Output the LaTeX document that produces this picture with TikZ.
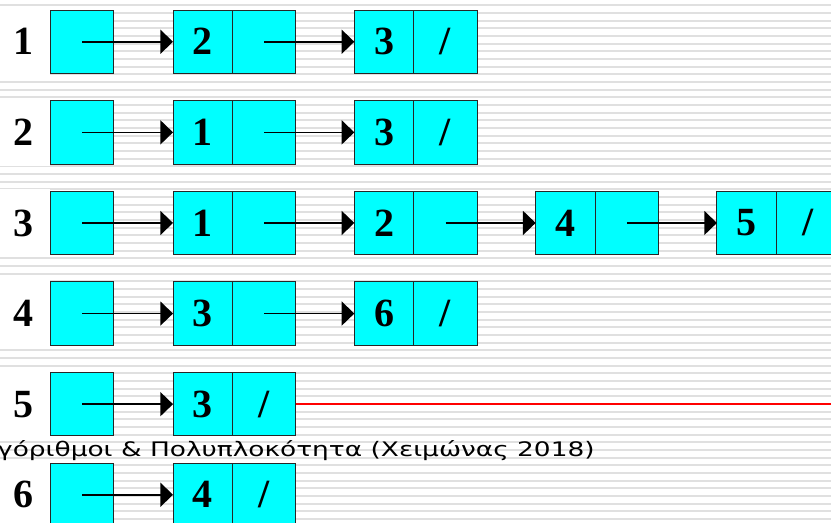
\documentclass[tikz,border=0pt]{standalone}
\usepackage{fontspec}
\setmainfont{Liberation Serif}
\newfontfamily\footfont{DejaVu Sans}
\usetikzlibrary{arrows.meta}
\definecolor{cellcyan}{RGB}{0,255,255}

\begin{document}
\begin{tikzpicture}[x=0.75pt,y=0.75pt,yscale=-1,
        cell/.style={draw=black!85,line width=0.75pt,fill=cellcyan,inner sep=0pt,outer sep=0pt,minimum height=47.6pt,font=\bfseries\fontsize{30}{30}\selectfont},
        datacell/.style={cell,minimum width=44.6pt},
        ptrcell/.style={cell,minimum width=47.6pt},
        rowlabel/.style={fill=white,inner sep=0pt,minimum width=40.5pt,minimum height=51pt,font=\bfseries\fontsize{30}{30}\selectfont},
        link/.style={line width=1.25pt,-{Triangle[length=9.5pt,width=18pt]}},
        stripe/.style={draw=black!12,line width=1.5pt}]
        \useasboundingbox (0,0) rectangle (831,522);
        \clip (0,0) rectangle (831,522);

        %Shape: background lines
        \foreach \k in {0,...,67}
          \draw[stripe] (0,5.2+7.67*\k) -- (831,5.2+7.67*\k);

        % Row 1
        \node[rowlabel] (l1) at (23,41.75) {1};
        \node[ptrcell] (p10) at (82,41.75) {};
        \node[datacell] (d11) at (202.75,41.75) {2};
        \node[ptrcell] (p11) at (264.25,41.75) {};
        \node[datacell] (d12) at (384.05,41.75) {3};
        \node[ptrcell] (p12) at (445.55,41.75) {/};

        % Row 2
        \node[rowlabel] (l2) at (23,132.35) {2};
        \node[ptrcell] (p20) at (82,132.35) {};
        \node[datacell] (d21) at (202.75,132.35) {1};
        \node[ptrcell] (p21) at (264.25,132.35) {};
        \node[datacell] (d22) at (384.05,132.35) {3};
        \node[ptrcell] (p22) at (445.55,132.35) {/};

        % Row 3
        \node[rowlabel] (l3) at (23,222.95) {3};
        \node[ptrcell] (p30) at (82,222.95) {};
        \node[datacell] (d31) at (202.75,222.95) {1};
        \node[ptrcell] (p31) at (264.25,222.95) {};
        \node[datacell] (d32) at (384.05,222.95) {2};
        \node[ptrcell] (p32) at (445.55,222.95) {};
        \node[datacell] (d33) at (565.35,222.95) {4};
        \node[ptrcell] (p33) at (626.85,222.95) {};
        \node[datacell] (d34) at (746.65,222.95) {5};
        \node[ptrcell] (p34) at (808.15,222.95) {/};

        % Row 4
        \node[rowlabel] (l4) at (23,313.55) {4};
        \node[ptrcell] (p40) at (82,313.55) {};
        \node[datacell] (d41) at (202.75,313.55) {3};
        \node[ptrcell] (p41) at (264.25,313.55) {};
        \node[datacell] (d42) at (384.05,313.55) {6};
        \node[ptrcell] (p42) at (445.55,313.55) {/};

        % Row 5
        \node[rowlabel] (l5) at (23,404.15) {5};
        \node[ptrcell] (p50) at (82,404.15) {};
        \node[datacell] (d51) at (202.75,404.15) {3};
        \node[ptrcell] (p51) at (264.25,404.15) {/};

        % Row 6
        \node[rowlabel] (l6) at (23,494.75) {6};
        \node[ptrcell] (p60) at (82,494.75) {};
        \node[datacell] (d61) at (202.75,494.75) {4};
        \node[ptrcell] (p61) at (264.25,494.75) {/};

        %Shape: red rule
        \coordinate (ruleend) at (831,404.15);
        \draw[red,line width=1.1pt] (p51.east) -- (ruleend);

        % Links
        \draw[link] (p10.center) -- (d11.west);
        \draw[link] (p11.center) -- (d12.west);
        \draw[link] (p20.center) -- (d21.west);
        \draw[link] (p21.center) -- (d22.west);
        \draw[link] (p30.center) -- (d31.west);
        \draw[link] (p31.center) -- (d32.west);
        \draw[link] (p32.center) -- (d33.west);
        \draw[link] (p33.center) -- (d34.west);
        \draw[link] (p40.center) -- (d41.west);
        \draw[link] (p41.center) -- (d42.west);
        \draw[link] (p50.center) -- (d51.west);
        \draw[link] (p60.center) -- (d61.west);

        % Text Node
        \node[anchor=base east,inner sep=0pt,xscale=1.32,font=\footfont\fontsize{15}{15}\selectfont] (footer) at (595,456) {Αλγόριθμοι \& Πολυπλοκότητα (Χειμώνας 2018)};

\end{tikzpicture}
\end{document}
